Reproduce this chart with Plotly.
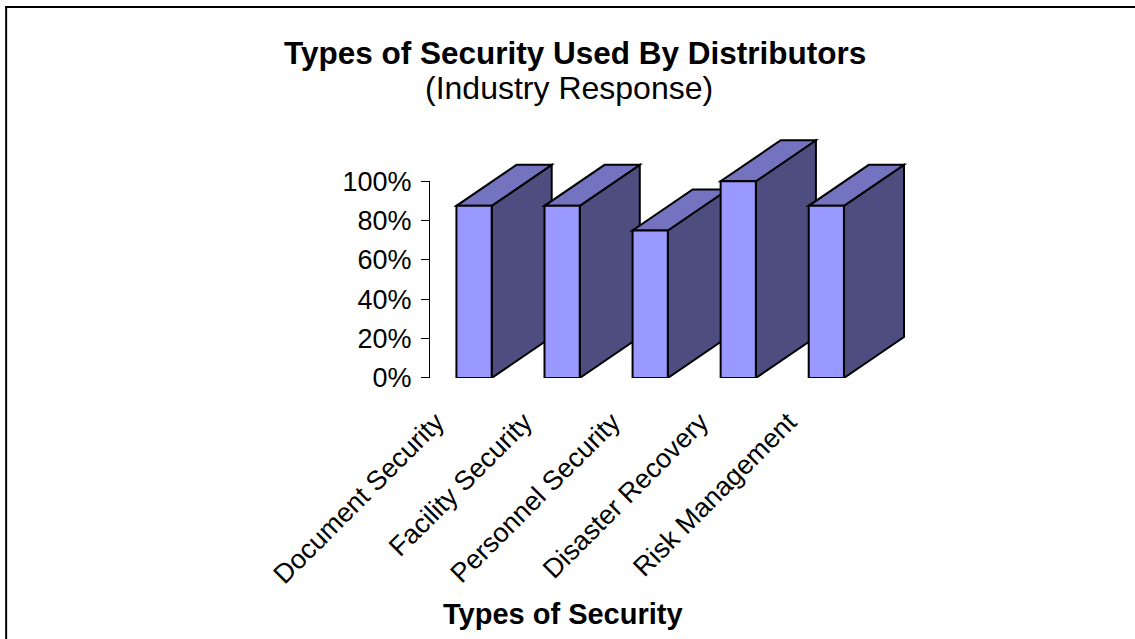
import plotly.graph_objects as go

# Share of distributors using each type of security (percent)
categories = [
    "Document Security",
    "Facility Security",
    "Personnel Security",
    "Disaster Recovery",
    "Risk Management",
]
usage_pct = [87.5, 87.5, 75, 100, 87.5]
tick_pcts = [0, 20, 40, 60, 80, 100]
tick_text = ["0%", "20%", "40%", "60%", "80%", "100%"]

# Page / plot geometry (pixels)
W, H = 1135, 639
M_L, M_T = 430, 138
X_RANGE = [-0.5, 4.95]
Y_TOP = 122           # bars axis extends above 100% to leave room for the 3D depth
PX_PER_X = 88.0
PLOT_W = (X_RANGE[1] - X_RANGE[0]) * PX_PER_X
PLOT_H = 240.0
M_R = W - M_L - PLOT_W
M_B = H - M_T - PLOT_H

# Pseudo-3D look of the columns
BAR_W = 0.4
DEPTH_X = 60 / PX_PER_X               # in x units
DEPTH_Y = 41 / (PLOT_H / Y_TOP)       # in y units
FRONT = "#9999FF"
SIDE = "#4D4D80"
TOP = "#7373BF"
EDGE = "#000000"
LABEL_SHIFT = 0.43                    # rotated labels sit left of their column

FONT = "Arial, 'Liberation Sans', sans-serif"


def px_x(px):
    return (px - M_L) / PLOT_W


def px_y(py):
    return (M_T + PLOT_H - py) / PLOT_H


xs = list(range(len(categories)))

fig = go.Figure()
# percentage scale (carries the visible y axis)
fig.add_trace(
    go.Scatter(
        x=[xs[0]], y=[0], mode="markers", marker=dict(opacity=0),
        hoverinfo="skip", showlegend=False, xaxis="x", yaxis="y",
    )
)
fig.add_trace(
    go.Bar(
        x=xs,
        y=usage_pct,
        width=BAR_W,
        marker=dict(color=FRONT, line=dict(color=EDGE, width=2)),
        xaxis="x",
        yaxis="y2",
        hoverinfo="skip",
        showlegend=False,
    )
)

shapes = []
for x, v in zip(xs, usage_pct):
    xl, xr = x - BAR_W / 2, x + BAR_W / 2
    side = (
        f"M {xr},0 L {xr + DEPTH_X},{DEPTH_Y} L {xr + DEPTH_X},{v + DEPTH_Y} "
        f"L {xr},{v} Z"
    )
    top = (
        f"M {xl},{v} L {xr},{v} L {xr + DEPTH_X},{v + DEPTH_Y} "
        f"L {xl + DEPTH_X},{v + DEPTH_Y} Z"
    )
    for path, col in ((side, SIDE), (top, TOP)):
        shapes.append(
            dict(
                type="path", path=path, xref="x", yref="y2",
                fillcolor=col, line=dict(color=EDGE, width=2), layer="below",
            )
        )

# frame lines along the left and top of the chart area
shapes.append(
    dict(
        type="line", xref="paper", yref="paper",
        x0=px_x(6.5), x1=px_x(6.5), y0=px_y(H + 10), y1=px_y(7),
        line=dict(color="#000000", width=2),
    )
)
shapes.append(
    dict(
        type="line", xref="paper", yref="paper",
        x0=px_x(5.5), x1=px_x(W + 10), y0=px_y(7), y1=px_y(7),
        line=dict(color="#000000", width=2),
    )
)

annotations = [
    dict(
        text="<b>Types of Security Used By Distributors</b>",
        x=px_x(575), y=px_y(53), xref="paper", yref="paper",
        xanchor="center", yanchor="middle", showarrow=False,
        font=dict(family=FONT, size=31.5, color="#000000"),
    ),
    dict(
        text="(Industry Response)",
        x=px_x(568.5), y=px_y(88), xref="paper", yref="paper",
        xanchor="center", yanchor="middle", showarrow=False,
        font=dict(family=FONT, size=32, color="#000000"),
    ),
    dict(
        text="<b>Types of Security</b>",
        x=px_x(562.5), y=px_y(614), xref="paper", yref="paper",
        xanchor="center", yanchor="middle", showarrow=False,
        font=dict(family=FONT, size=29, color="#000000"),
    ),
]

fig.update_layout(
    width=W,
    height=H,
    autosize=False,
    margin=dict(l=M_L, r=M_R, t=M_T, b=M_B, pad=0),
    paper_bgcolor="#FFFFFF",
    plot_bgcolor="rgba(0,0,0,0)",
    showlegend=False,
    shapes=shapes,
    annotations=annotations,
    xaxis=dict(
        range=X_RANGE,
        anchor="y",
        tickmode="array",
        tickvals=[x - LABEL_SHIFT for x in xs],
        ticktext=categories,
        tickangle=-45,
        ticks="",
        showline=False,
        showgrid=False,
        zeroline=False,
        ticklabelstandoff=22,
        tickfont=dict(family=FONT, size=27, color="#000000"),
        fixedrange=True,
    ),
    yaxis=dict(
        domain=[0, 100 / Y_TOP],
        range=[0, 100],
        anchor="x",
        tickmode="array",
        tickvals=tick_pcts,
        ticktext=tick_text,
        ticks="outside",
        ticklen=8,
        tickwidth=1,
        tickcolor="#000000",
        showline=True,
        linecolor="#000000",
        linewidth=1,
        showgrid=False,
        zeroline=False,
        ticklabelstandoff=4,
        tickfont=dict(family=FONT, size=27, color="#000000"),
        fixedrange=True,
    ),
    yaxis2=dict(
        domain=[0, 1],
        range=[0, Y_TOP],
        anchor="x",
        visible=False,
        fixedrange=True,
    ),
)

fig.write_html("out.html")
